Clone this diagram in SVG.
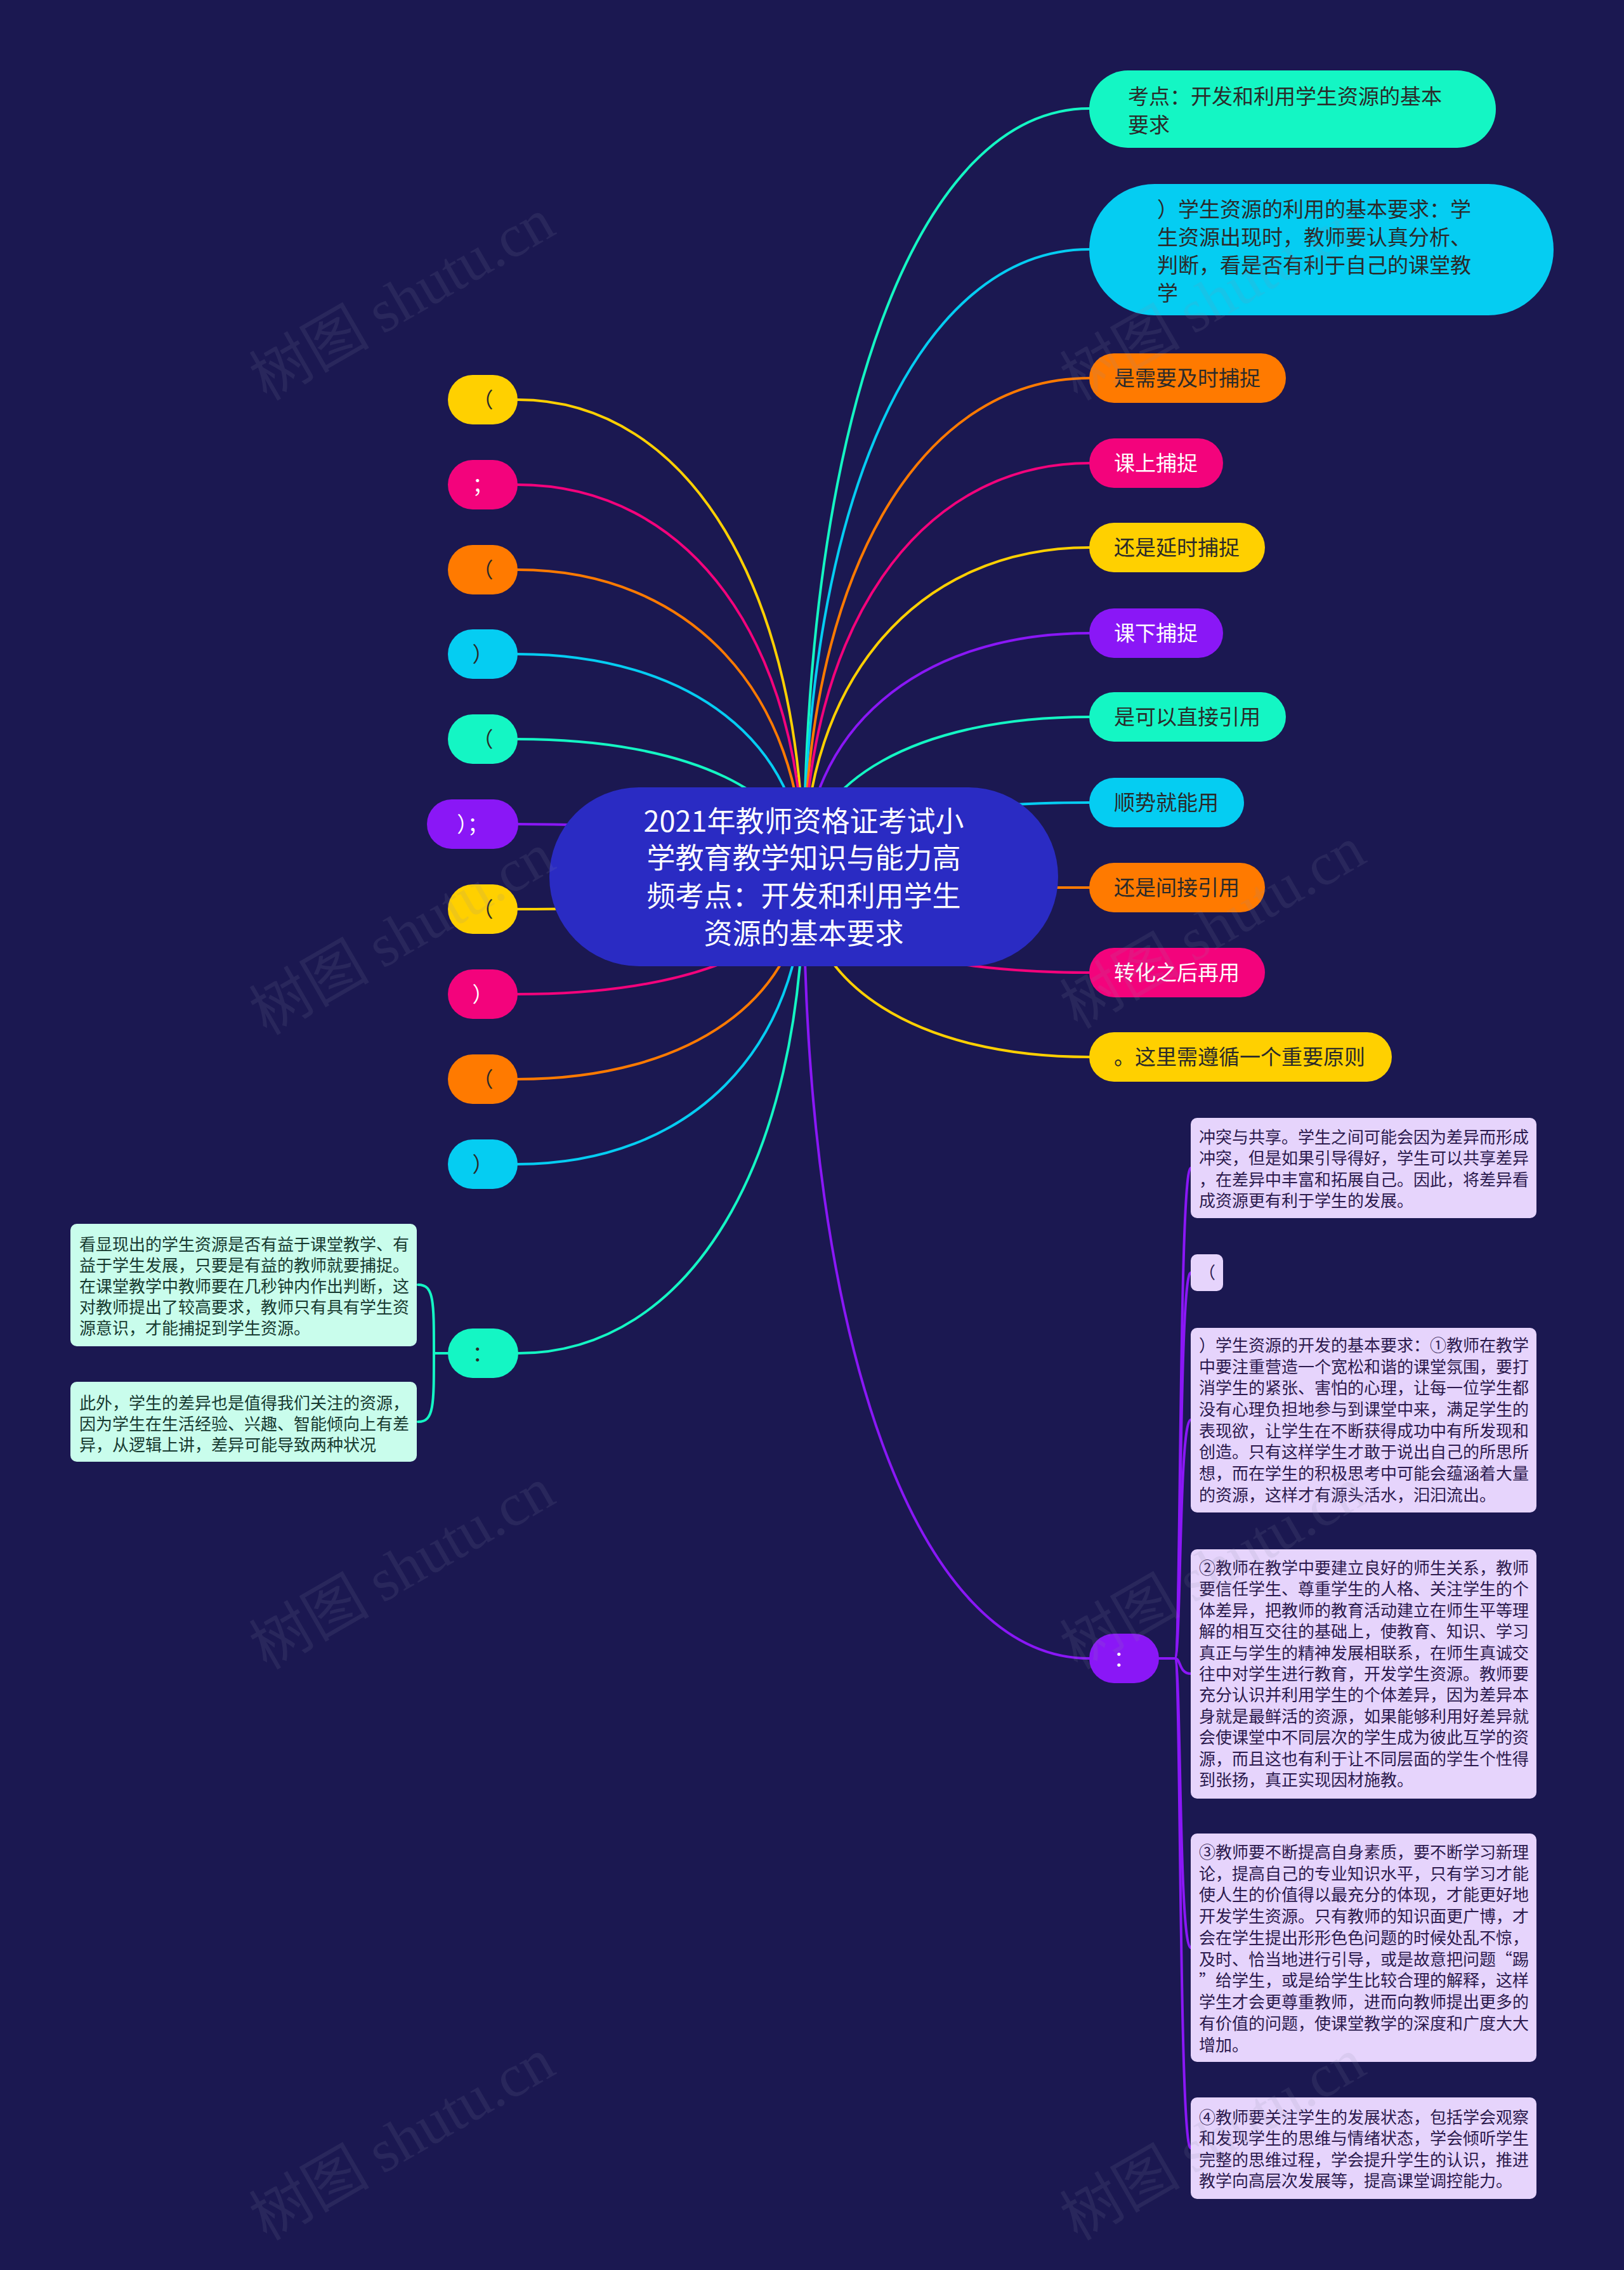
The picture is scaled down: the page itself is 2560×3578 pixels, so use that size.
<svg xmlns="http://www.w3.org/2000/svg" width="2560" height="3578" viewBox="0 0 2560 3578">
<style>
text{font-family:"Noto Sans CJK SC","Noto Sans",sans-serif}
.f33{font-size:33px}
.f26{font-size:26px}
.dk{fill:#2a2a2a}
.wt{fill:#ffffff}
.lv{fill:#2c1a4e}
.gn{fill:#173a30}
.mid{text-anchor:middle}
#connectors path{fill:none;stroke-width:4;stroke-linecap:round}
.mint{fill:#14f6c4}.cyan{fill:#05cdf2}.orange{fill:#ff7a00}.pink{fill:#f3037c}.yellow{fill:#ffd000}.purple{fill:#8a17f6}
.smint{stroke:#14f6c4}.scyan{stroke:#05cdf2}.sorange{stroke:#ff7a00}.spink{stroke:#f3037c}.syellow{stroke:#ffd000}.spurple{stroke:#8a17f6}
.boxg{fill:#c9fdec}.boxp{fill:#e6d4fc}
.wm{font-family:"Noto Sans CJK SC",sans-serif;font-size:95px;fill:#8a8aa8;opacity:0.13}
.wm tspan{font-family:"Liberation Serif",serif}
</style>
<rect x="0" y="0" width="2560" height="3578" fill="#1b1851"/>

<g id="connectors">
<path class="syellow" d="M816,630 C1087,630 1267,931 1267,1382"/>
<path class="spink" d="M816,764 C1087,764 1267,1011 1267,1382"/>
<path class="sorange" d="M816,898 C1087,898 1267,1092 1267,1382"/>
<path class="scyan" d="M816,1031 C1087,1031 1267,1171 1267,1382"/>
<path class="smint" d="M816,1165 C1087,1165 1267,1252 1267,1382"/>
<path class="spurple" d="M817,1299 C1087,1299 1267,1332 1267,1382"/>
<path class="syellow" d="M816,1433 C1087,1433 1267,1413 1267,1382"/>
<path class="spink" d="M816,1567 C1087,1567 1267,1493 1267,1382"/>
<path class="sorange" d="M816,1701 C1087,1701 1267,1573 1267,1382"/>
<path class="scyan" d="M816,1835 C1087,1835 1267,1654 1267,1382"/>
<path class="smint" d="M817,2133 C1087,2133 1267,1833 1267,1382"/>
<path class="smint" d="M1717,171 C1447,171 1267,655 1267,1382"/>
<path class="scyan" d="M1717,393 C1447,393 1267,789 1267,1382"/>
<path class="sorange" d="M1717,596 C1447,596 1267,910 1267,1382"/>
<path class="spink" d="M1717,730 C1447,730 1267,991 1267,1382"/>
<path class="syellow" d="M1717,863 C1447,863 1267,1071 1267,1382"/>
<path class="spurple" d="M1717,998 C1447,998 1267,1152 1267,1382"/>
<path class="smint" d="M1717,1130 C1447,1130 1267,1231 1267,1382"/>
<path class="scyan" d="M1717,1265 C1447,1265 1267,1312 1267,1382"/>
<path class="sorange" d="M1717,1399 C1447,1399 1267,1392 1267,1382"/>
<path class="spink" d="M1717,1533 C1447,1533 1267,1473 1267,1382"/>
<path class="syellow" d="M1717,1666 C1447,1666 1267,1552 1267,1382"/>
<path class="spurple" d="M1717,2614 C1447,2614 1267,2121 1267,1382"/>
<path class="smint" d="M706,2133 H684"/>
<path class="smint" d="M684,2133 C684,2050 684,2025 659,2025"/>
<path class="smint" d="M684,2133 C684,2216 684,2241 659,2241"/>
<path class="spurple" d="M1827,2614 H1852"/>
<path class="spurple" d="M1852,2614 C1862,2614 1858,1841 1877,1841"/>
<path class="spurple" d="M1852,2614 C1862,2614 1858,2006 1877,2006"/>
<path class="spurple" d="M1852,2614 C1862,2614 1858,2238 1877,2238"/>
<path class="spurple" d="M1852,2614 C1862,2614 1858,2638 1877,2638"/>
<path class="spurple" d="M1852,2614 C1862,2614 1858,3070 1877,3070"/>
<path class="spurple" d="M1852,2614 C1862,2614 1858,3386 1877,3386"/>
</g>

<g id="center">
<rect x="866" y="1241" width="802" height="282" rx="141" fill="#2a2bc3"/>
<text class="wt mid" font-size="45" x="1267" y="1311">2021年教师资格证考试小</text>
<text class="wt mid" font-size="45" x="1267" y="1369">学教育教学知识与能力高</text>
<text class="wt mid" font-size="45" x="1267" y="1429">频考点：开发和利用学生</text>
<text class="wt mid" font-size="45" x="1267" y="1488">资源的基本要求</text>
</g>

<g id="r1"><rect class="mint" x="1717" y="111" width="641" height="122" rx="61"/>
<text class="f33 dk" x="1778" y="164">考点：开发和利用学生资源的基本</text>
<text class="f33 dk" x="1778" y="209">要求</text></g>
<g id="r2"><rect class="cyan" x="1717" y="290" width="732" height="207" rx="103"/>
<text class="f33 dk" x="1824" y="342">）学生资源的利用的基本要求：学</text>
<text class="f33 dk" x="1824" y="386">生资源出现时，教师要认真分析、</text>
<text class="f33 dk" x="1824" y="430">判断，看是否有利于自己的课堂教</text>
<text class="f33 dk" x="1824" y="474">学</text></g>
<g id="r3"><rect class="orange" x="1717" y="557" width="310" height="78" rx="39"/><text class="f33 dk" x="1756" y="608">是需要及时捕捉</text></g>
<g id="r4"><rect class="pink" x="1717" y="691" width="211" height="78" rx="39"/><text class="f33 wt" x="1756" y="742">课上捕捉</text></g>
<g id="r5"><rect class="yellow" x="1717" y="824" width="277" height="78" rx="39"/><text class="f33 dk" x="1756" y="875">还是延时捕捉</text></g>
<g id="r6"><rect class="purple" x="1717" y="959" width="211" height="78" rx="39"/><text class="f33 wt" x="1756" y="1010">课下捕捉</text></g>
<g id="r7"><rect class="mint" x="1717" y="1091" width="310" height="78" rx="39"/><text class="f33 dk" x="1756" y="1142">是可以直接引用</text></g>
<g id="r8"><rect class="cyan" x="1717" y="1226" width="244" height="78" rx="39"/><text class="f33 dk" x="1756" y="1277">顺势就能用</text></g>
<g id="r9"><rect class="orange" x="1717" y="1360" width="277" height="78" rx="39"/><text class="f33 dk" x="1756" y="1411">还是间接引用</text></g>
<g id="r10"><rect class="pink" x="1717" y="1494" width="277" height="78" rx="39"/><text class="f33 wt" x="1756" y="1545">转化之后再用</text></g>
<g id="r11"><rect class="yellow" x="1717" y="1627" width="477" height="78" rx="39"/><text class="f33 dk" x="1756" y="1678">。这里需遵循一个重要原则</text></g>

<g id="l1"><rect class="yellow" x="706" y="591" width="110" height="78" rx="39"/><text class="f33 dk mid" x="761" y="642">（</text></g>
<g id="l2"><rect class="pink" x="706" y="725" width="110" height="78" rx="39"/><text class="f33 wt mid" x="761" y="776">；</text></g>
<g id="l3"><rect class="orange" x="706" y="859" width="110" height="78" rx="39"/><text class="f33 dk mid" x="761" y="910">（</text></g>
<g id="l4"><rect class="cyan" x="706" y="992" width="110" height="78" rx="39"/><text class="f33 dk mid" x="761" y="1043">）</text></g>
<g id="l5"><rect class="mint" x="706" y="1126" width="110" height="78" rx="39"/><text class="f33 dk mid" x="761" y="1177">（</text></g>
<g id="l6"><rect class="purple" x="673" y="1260" width="144" height="78" rx="39"/><text class="f33 wt mid" x="745" y="1311">）；</text></g>
<g id="l7"><rect class="yellow" x="706" y="1394" width="110" height="78" rx="39"/><text class="f33 dk mid" x="761" y="1445">（</text></g>
<g id="l8"><rect class="pink" x="706" y="1528" width="110" height="78" rx="39"/><text class="f33 wt mid" x="761" y="1579">）</text></g>
<g id="l9"><rect class="orange" x="706" y="1662" width="110" height="78" rx="39"/><text class="f33 dk mid" x="761" y="1713">（</text></g>
<g id="l10"><rect class="cyan" x="706" y="1796" width="110" height="78" rx="39"/><text class="f33 dk mid" x="761" y="1847">）</text></g>
<g id="l11"><rect class="mint" x="706" y="2094" width="111" height="78" rx="39"/><text class="f33 dk mid" x="761" y="2145">：</text></g>

<g id="lb1"><rect class="boxg" x="111" y="1929" width="546" height="193" rx="10"/>
<text class="f26 gn" x="125" y="1971">看显现出的学生资源是否有益于课堂教学、有</text>
<text class="f26 gn" x="125" y="2004">益于学生发展，只要是有益的教师就要捕捉。</text>
<text class="f26 gn" x="125" y="2037">在课堂教学中教师要在几秒钟内作出判断，这</text>
<text class="f26 gn" x="125" y="2070">对教师提出了较高要求，教师只有具有学生资</text>
<text class="f26 gn" x="125" y="2103">源意识，才能捕捉到学生资源。</text></g>
<g id="lb2"><rect class="boxg" x="111" y="2178" width="546" height="126" rx="10"/>
<text class="f26 gn" x="125" y="2221">此外，学生的差异也是值得我们关注的资源，</text>
<text class="f26 gn" x="125" y="2254">因为学生在生活经验、兴趣、智能倾向上有差</text>
<text class="f26 gn" x="125" y="2287">异，从逻辑上讲，差异可能导致两种状况</text></g>

<g id="r12"><rect class="purple" x="1717" y="2575" width="110" height="78" rx="39"/><text class="f33 wt mid" x="1772" y="2626">：</text></g>

<g id="rb1"><rect class="boxp" x="1877" y="1762" width="545" height="158" rx="10"/>
<text class="f26 lv" x="1890" y="1802">冲突与共享。学生之间可能会因为差异而形成</text>
<text class="f26 lv" x="1890" y="1835">冲突，但是如果引导得好，学生可以共享差异</text>
<text class="f26 lv" x="1890" y="1869">，在差异中丰富和拓展自己。因此，将差异看</text>
<text class="f26 lv" x="1890" y="1902">成资源更有利于学生的发展。</text></g>
<g id="rb2"><rect class="boxp" x="1877" y="1977" width="51" height="58" rx="10"/>
<text class="f26 lv" x="1890" y="2015">（</text></g>
<g id="rb3"><rect class="boxp" x="1877" y="2093" width="545" height="291" rx="10"/>
<text class="f26 lv" x="1890" y="2130">）学生资源的开发的基本要求：①教师在教学</text>
<text class="f26 lv" x="1890" y="2164">中要注重营造一个宽松和谐的课堂氛围，要打</text>
<text class="f26 lv" x="1890" y="2197">消学生的紧张、害怕的心理，让每一位学生都</text>
<text class="f26 lv" x="1890" y="2231">没有心理负担地参与到课堂中来，满足学生的</text>
<text class="f26 lv" x="1890" y="2265">表现欲，让学生在不断获得成功中有所发现和</text>
<text class="f26 lv" x="1890" y="2298">创造。只有这样学生才敢于说出自己的所思所</text>
<text class="f26 lv" x="1890" y="2332">想，而在学生的积极思考中可能会蕴涵着大量</text>
<text class="f26 lv" x="1890" y="2366">的资源，这样才有源头活水，汩汩流出。</text></g>
<g id="rb4"><rect class="boxp" x="1877" y="2442" width="545" height="393" rx="10"/>
<text class="f26 lv" x="1890" y="2481">②教师在教学中要建立良好的师生关系，教师</text>
<text class="f26 lv" x="1890" y="2514">要信任学生、尊重学生的人格、关注学生的个</text>
<text class="f26 lv" x="1890" y="2548">体差异，把教师的教育活动建立在师生平等理</text>
<text class="f26 lv" x="1890" y="2581">解的相互交往的基础上，使教育、知识、学习</text>
<text class="f26 lv" x="1890" y="2615">真正与学生的精神发展相联系，在师生真诚交</text>
<text class="f26 lv" x="1890" y="2648">往中对学生进行教育，开发学生资源。教师要</text>
<text class="f26 lv" x="1890" y="2681">充分认识并利用学生的个体差异，因为差异本</text>
<text class="f26 lv" x="1890" y="2715">身就是最鲜活的资源，如果能够利用好差异就</text>
<text class="f26 lv" x="1890" y="2748">会使课堂中不同层次的学生成为彼此互学的资</text>
<text class="f26 lv" x="1890" y="2782">源，而且这也有利于让不同层面的学生个性得</text>
<text class="f26 lv" x="1890" y="2815">到张扬，真正实现因材施教。</text></g>
<g id="rb5"><rect class="boxp" x="1877" y="2890" width="545" height="360" rx="10"/>
<text class="f26 lv" x="1890" y="2929">③教师要不断提高自身素质，要不断学习新理</text>
<text class="f26 lv" x="1890" y="2963">论，提高自己的专业知识水平，只有学习才能</text>
<text class="f26 lv" x="1890" y="2996">使人生的价值得以最充分的体现，才能更好地</text>
<text class="f26 lv" x="1890" y="3030">开发学生资源。只有教师的知识面更广博，才</text>
<text class="f26 lv" x="1890" y="3064">会在学生提出形形色色问题的时候处乱不惊，</text>
<text class="f26 lv" x="1890" y="3098">及时、恰当地进行引导，或是故意把问题“踢</text>
<text class="f26 lv" x="1890" y="3131">”给学生，或是给学生比较合理的解释，这样</text>
<text class="f26 lv" x="1890" y="3165">学生才会更尊重教师，进而向教师提出更多的</text>
<text class="f26 lv" x="1890" y="3199">有价值的问题，使课堂教学的深度和广度大大</text>
<text class="f26 lv" x="1890" y="3233">增加。</text></g>
<g id="rb6"><rect class="boxp" x="1877" y="3306" width="545" height="160" rx="10"/>
<text class="f26 lv" x="1890" y="3347">④教师要关注学生的发展状态，包括学会观察</text>
<text class="f26 lv" x="1890" y="3380">和发现学生的思维与情绪状态，学会倾听学生</text>
<text class="f26 lv" x="1890" y="3414">完整的思维过程，学会提升学生的认识，推进</text>
<text class="f26 lv" x="1890" y="3447">教学向高层次发展等，提高课堂调控能力。</text></g>

<g id="watermarks">
<text class="wm mid" transform="translate(650,500) rotate(-30)">树图 <tspan>shutu.cn</tspan></text>
<text class="wm mid" transform="translate(1928,500) rotate(-30)">树图 <tspan>shutu.cn</tspan></text>
<text class="wm mid" transform="translate(650,1500) rotate(-30)">树图 <tspan>shutu.cn</tspan></text>
<text class="wm mid" transform="translate(1928,1490) rotate(-30)">树图 <tspan>shutu.cn</tspan></text>
<text class="wm mid" transform="translate(650,2500) rotate(-30)">树图 <tspan>shutu.cn</tspan></text>
<text class="wm mid" transform="translate(1928,2500) rotate(-30)">树图 <tspan>shutu.cn</tspan></text>
<text class="wm mid" transform="translate(650,3400) rotate(-30)">树图 <tspan>shutu.cn</tspan></text>
<text class="wm mid" transform="translate(1928,3400) rotate(-30)">树图 <tspan>shutu.cn</tspan></text>
</g>
</svg>
